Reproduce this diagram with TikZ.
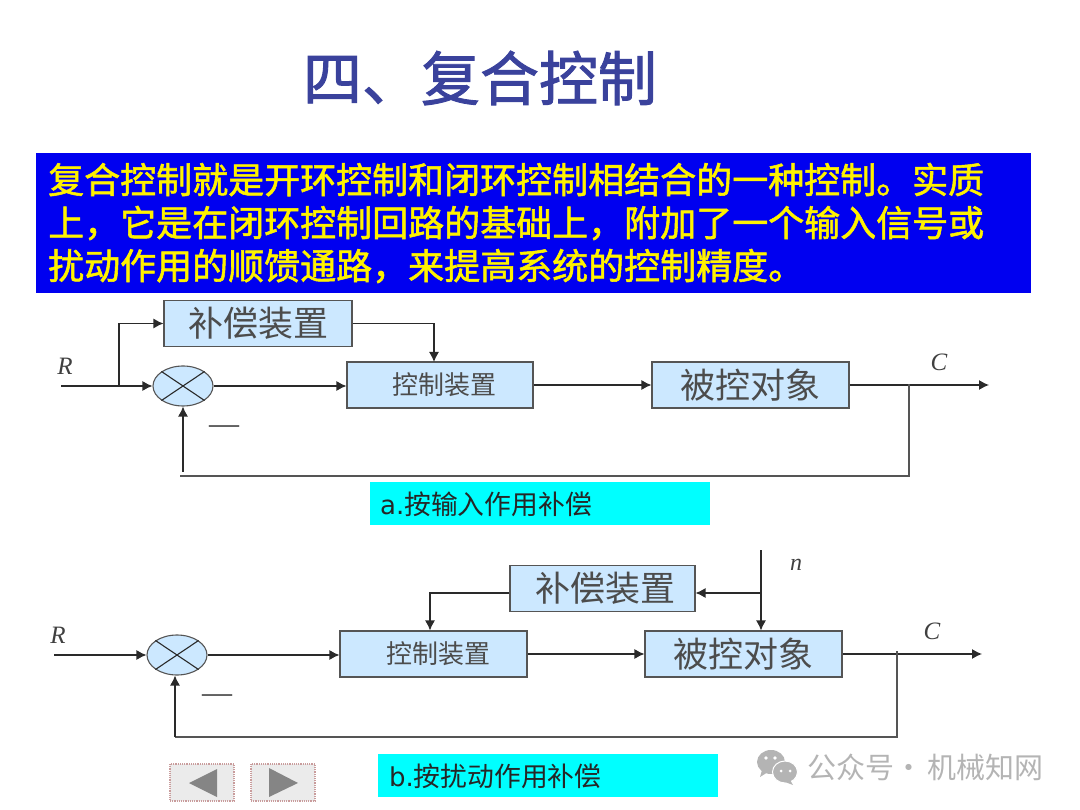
\documentclass[tikz,border=0pt]{standalone}
\usepackage{fontspec}
\setmainfont{Liberation Serif}
\newfontfamily\cjk{Noto Sans CJK SC}
\newfontfamily\cjkbold[FakeBold=1.5]{Noto Sans CJK SC}
\newfontfamily\capfont{DejaVu Sans}
\usetikzlibrary{arrows.meta,shapes.geometric}
\definecolor{titleblue}{HTML}{3A429C}
\definecolor{boxblue}{HTML}{CCE8FF}
\definecolor{bandblue}{HTML}{0000F0}
\definecolor{linegray}{HTML}{2A2A2A}
\definecolor{edgegray}{HTML}{555555}
\definecolor{markgray}{HTML}{B4B4B4}
\definecolor{capcyan}{HTML}{00FFFF}
\tikzset{
    blockbox/.style={draw=edgegray, fill=boxblue, line width=1.1pt, minimum height=46pt, inner sep=0pt, text=black!70, font=\cjk\fontsize{35}{35}\selectfont},
    smallbox/.style={blockbox, font=\cjk\fontsize{26}{26}\selectfont},
    sumnode/.style={draw=edgegray, fill=boxblue, ellipse, line width=1.1pt, minimum width=60pt, minimum height=40pt, inner sep=0pt},
    signal/.style={line width=1.2pt, draw=linegray, -{Latex[length=10pt,width=10pt]}},
    plainline/.style={line width=1.1pt, draw=linegray},
    backline/.style={line width=1.4pt, draw=edgegray},
    varlabel/.style={font=\fontsize{25}{25}\selectfont\itshape, text=black!75},
    capbox/.style={fill=capcyan, minimum width=340pt, minimum height=43pt, inner sep=0pt},
    navbox/.style={draw=red!30!gray!60, densely dotted, line width=1.2pt, fill=black!8, minimum width=64pt, minimum height=37pt, inner sep=0pt}
}
\begin{document}
\begin{tikzpicture}[x=1pt, y=-1pt]
    \useasboundingbox (0,0) rectangle (1080,810);
    % Title
    \node[text=titleblue, font=\cjkbold\fontsize{59}{59}\selectfont] (title) at (480,78) {四、复合控制};
    % Text band
    \node[fill=bandblue, minimum width=995pt, minimum height=140pt, inner sep=0pt] (band) at (533.5,223) {};
    \node[anchor=west, text=yellow, align=left, inner sep=0pt, font=\cjkbold\fontsize{36}{43}\selectfont] (bandtext) at (48,223) {复合控制就是开环控制和闭环控制相结合的一种控制。实质\\上，它是在闭环控制回路的基础上，附加了一个输入信号或\\扰动作用的顺馈通路，来提高系统的控制精度。};

    % Upper diagram
    \node[blockbox, minimum width=188pt] (compA) at (258,323.5) {补偿装置};
    \node[smallbox, minimum width=186pt] (ctrlA) at (440,385) {\hspace{9pt}控制装置};
    \node[blockbox, minimum width=197pt] (plantA) at (750.5,385) {被控对象};
    \node[sumnode] (sumA) at (183,386) {};
    \draw[plainline] (sumA.north west) -- (sumA.south east);
    \draw[plainline] (sumA.north east) -- (sumA.south west);
    \node[varlabel] (labRA) at (65,366) {R};
    \node[varlabel] (labCA) at (939,362) {C};
    \node[font=\fontsize{30}{30}\selectfont, text=black!80] (minusA) at (224,430) {—};
    \coordinate (inA) at (61,386);
    \coordinate (splitA) at (119,386);
    \coordinate (outA) at (989,385);
    \coordinate (tapA) at (909,384);
    \coordinate (cornerA) at (909,476);
    \coordinate (backA) at (180,476);
    \coordinate (riseA) at (183,472);
    \draw[signal] (inA) -- (sumA.west);
    \draw[signal] (splitA) |- (compA.west);
    \draw[signal] (compA.east) -| (434,362);
    \draw[signal] (sumA.east) -- (sumA.east -| ctrlA.west);
    \draw[signal] (ctrlA.east) -- (plantA.west);
    \draw[signal] (plantA.east) -- (outA);
    \draw[backline] (tapA) -- (cornerA) -- (backA);
    \draw[signal] (riseA) -- (sumA.south);
    \node[capbox, anchor=west] (capA) at (370,503.5) {};
    \node[anchor=west, inner sep=0pt, text=black!85] (capAtext) at (380,504) {{\capfont\fontsize{26}{26}\selectfont a.}{\cjk\fontsize{26.8}{27}\selectfont 按输入作用补偿}};

    % Lower diagram
    \node[blockbox, minimum width=185pt] (compB) at (602.5,588.5) {\hspace{6pt}\raisebox{3pt}{补偿装置}};
    \node[smallbox, minimum width=187pt] (ctrlB) at (433.5,654) {\hspace{9pt}控制装置};
    \node[blockbox, minimum width=197pt] (plantB) at (743.5,654) {被控对象};
    \node[sumnode] (sumB) at (177,655) {};
    \draw[plainline] (sumB.north west) -- (sumB.south east);
    \draw[plainline] (sumB.north east) -- (sumB.south west);
    \node[varlabel] (labRB) at (58,635) {R};
    \node[varlabel] (labCB) at (932,631) {C};
    \node[varlabel, font=\fontsize{24}{24}\selectfont\itshape] (labN) at (796,565) {n};
    \node[font=\fontsize{30}{30}\selectfont, text=black!80] (minusB) at (217,699) {—};
    \coordinate (inB) at (54,655);
    \coordinate (outB) at (982,654);
    \coordinate (tapB) at (897,651);
    \coordinate (cornerB) at (897,737);
    \coordinate (backB) at (175,737);
    \coordinate (topN) at (761,550);
    \coordinate (splitN) at (761,593);
    \coordinate (upB) at (430,593);
    \draw[signal] (inB) -- (sumB.west);
    \draw[signal] (sumB.east) -- (sumB.east -| ctrlB.west);
    \draw[signal] (ctrlB.east) -- (plantB.west);
    \draw[signal] (plantB.east) -- (outB);
    \draw[signal] (topN) -- (topN |- plantB.north);
    \draw[signal] (splitN) -- (splitN -| compB.east);
    \draw[signal] (upB -| compB.west) -- (upB) -- (upB |- ctrlB.north);
    \draw[backline] (tapB) -- (cornerB) -- (backB);
    \draw[signal] (backB) -- (sumB.south -| backB);
    \node[capbox, anchor=west] (capB) at (378,775) {};
    \node[anchor=west, inner sep=0pt, text=black!85] (capBtext) at (389,776) {{\capfont\fontsize{26}{26}\selectfont b.}{\cjk\fontsize{26.8}{27}\selectfont 按扰动作用补偿}};

    % Navigation buttons
    \node[navbox] (navL) at (202,782.5) {};
    \node[navbox] (navR) at (283,782.5) {};
    \fill[black!48] (189,783) -- (217,769) -- (217,797) -- cycle;
    \fill[black!48] (269,768) -- (298,783) -- (269,797) -- cycle;

    % Watermark
    \fill[markgray] (771,762) ellipse (14 and 12);
    \fill[markgray] (762,770) -- (760,777) -- (768,772) -- cycle;
    \fill[markgray, draw=white, line width=1pt] (785,772) ellipse (12.5 and 11);
    \fill[markgray] (790,780) -- (793,785) -- (785,782) -- cycle;
    \foreach \x/\y/\r in {766/758/1.8, 775/758/1.8, 781/771/1.5, 790/771/1.5}
        \fill[white] (\x,\y) circle (\r);
    \node[anchor=west, inner sep=0pt, text=markgray, font=\cjk\fontsize{29}{29}\selectfont] (mark) at (807,767) {公众号·\hspace{4pt}机械知网};
\end{tikzpicture}
\end{document}
